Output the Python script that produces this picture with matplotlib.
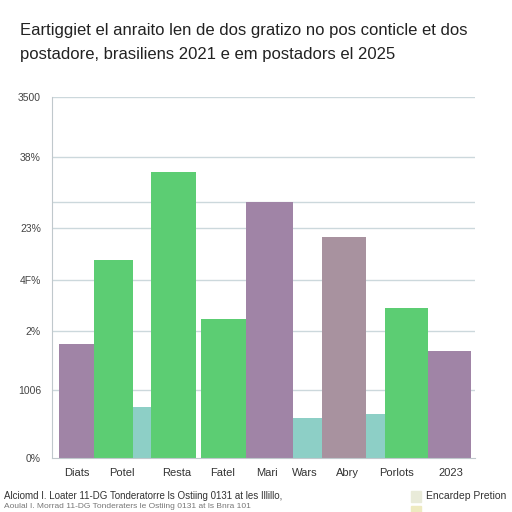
import numpy as np
import matplotlib.pyplot as plt
from matplotlib.patches import Rectangle

plt.rcParams['font.family'] = ['Liberation Sans', 'DejaVu Sans']

# data
values = [1105, 1920, 494, 2773, 1348, 2482, 388, 2143, 427, 1454, 1037]
series = ['purple', 'green', 'teal', 'green', 'green', 'purple', 'teal', 'mauve', 'teal', 'green', 'purple']
xlabels = ['Diats', 'Potel', 'Resta', 'Fatel', 'Mari', 'Wars', 'Abry', 'Porlots', '2023']
grid_vals = [659, 1231, 1726, 2230, 2482, 2918, 3500]
tick_vals = [0, 659, 1231, 1726, 2230, 2918, 3500]
tick_labels = ['0%', '1006', '2%', '4F%', '23%', '38%', '3500']

# layout (axis pixel units)
lefts = [7, 42, 81, 99, 149, 194, 241, 270, 314, 333, 376]
widths = [35, 39, 18, 44.5, 44.5, 47, 29, 44, 19, 43, 43]
label_pos = [25, 70, 125, 171, 215, 253, 295, 345, 399]

colors = {'purple': '#a084a6', 'green': '#5ccd73', 'teal': '#8dcfc6', 'mauve': '#a8929f'}

fig = plt.figure(figsize=(5.12, 5.12), dpi=100)
ax = fig.add_axes([52/512, 54/512, 423/512, 361/512])

for v in grid_vals:
    ax.axhline(v, color='#ccd8dc', lw=1, zorder=0)

for l, w, v, s in zip(lefts, widths, values, series):
    ax.bar(l, v, width=w, align='edge', color=colors[s], zorder=2)

ax.set_xlim(0, 423)
ax.set_ylim(0, 3500)
ax.set_yticks(tick_vals)
ax.set_yticklabels(tick_labels, fontsize=7.5, color='#444444')
ax.set_xticks(label_pos)
ax.set_xticklabels(xlabels, fontsize=8, color='#333333')
ax.tick_params(length=0, pad=7)
ax.tick_params(axis='y', pad=8)
for sp in ['top', 'right']:
    ax.spines[sp].set_visible(False)
for sp in ['left', 'bottom']:
    ax.spines[sp].set_color('#c0c8cc')

fig.text(20/512, 1 - 30/512, 'Eartiggiet el anraito len de dos gratizo no pos conticle et dos',
         fontsize=12, color='#222222', va='center')
fig.text(20/512, 1 - 55/512, 'postadore, brasiliens 2021 e em postadors el 2025',
         fontsize=12, color='#222222', va='center')

fig.text(4/512, 1 - 496/512, 'Alciomd I. Loater 11-DG Tonderatorre ls Ostiing 0131 at les Illillo,',
         fontsize=7, color='#333333', va='center')
fig.text(4/512, 1 - 506.5/512, 'Aoulal I. Morrad 11-DG Tonderaters le Ostiing 0131 at ls Bnra 101',
         fontsize=6, color='#777777', va='center')
fig.patches.append(Rectangle((411/512, 1 - 502/512), 10/512, 11/512,
                             transform=fig.transFigure, color='#e9ebd9'))
fig.text(426/512, 1 - 496/512, 'Encardep Pretion', fontsize=7.5, color='#333333', va='center')
fig.patches.append(Rectangle((411/512, 1 - 512/512), 10/512, 6/512,
                             transform=fig.transFigure, color='#eeeac0'))

fig.savefig('out.png', dpi=100)
